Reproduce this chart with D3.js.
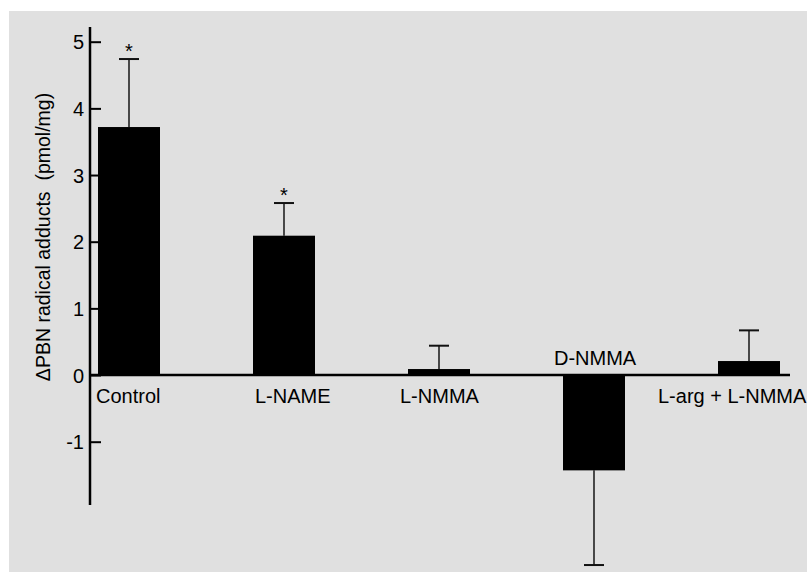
<!DOCTYPE html>
<html>
<head>
<meta charset="utf-8">
<script src="https://cdn.jsdelivr.net/npm/d3@7"></script>
<style>
  html, body { margin: 0; padding: 0; background: #ffffff; }
  svg { display: block; }
  text { font-family: "Liberation Sans", Arial, Helvetica, sans-serif; fill: #000; }
</style>
</head>
<body>
<svg id="chart" width="807" height="573"></svg>
<script>
// ---- data ----
const categories = ["Control", "L-NAME", "L-NMMA", "D-NMMA", "L-arg + L-NMMA"];
const means      = [3.72, 2.09, 0.09, -1.43, 0.21];
const errorEnds  = [4.74, 2.58, 0.44, -2.85, 0.67];   // end of the one-sided SEM bar
const significant = [true, true, false, false, false];
const yTicks     = [-1, 0, 1, 2, 3, 4, 5];
const yLabel     = "\u0394PBN radical adducts\u00a0\u00a0(pmol/mg)";

// ---- layout ----
const svg = d3.select("#chart");
svg.append("rect").attr("x", 9).attr("y", 11).attr("width", 798).attr("height", 561)
   .attr("fill", "#e0e0e0");

const x = d3.scaleBand().domain(categories).range([51.5, 826.5])
  .paddingInner(0.6).paddingOuter(0.3);
const y = d3.scaleLinear().domain([-1, 5]).range([441.7, 41.7]);
const axisX = 90;

// y axis line (extends past the tick range)
svg.append("line").attr("x1", axisX).attr("x2", axisX)
   .attr("y1", y(5.22)).attr("y2", y(-1.95))
   .attr("stroke", "#000").attr("stroke-width", 2.5);

const axis = d3.axisLeft(y).tickValues(yTicks).tickFormat(d => String(d))
  .tickSizeInner(-11).tickSizeOuter(0).tickPadding(6);
const gAxis = svg.append("g").attr("transform", `translate(${axisX},0)`).call(axis);
gAxis.select(".domain").remove();
gAxis.selectAll(".tick line").attr("stroke", "#000").attr("stroke-width", 2);
gAxis.selectAll(".tick text").attr("font-size", 20)
  .attr("font-family", "Liberation Sans, Arial, sans-serif").attr("fill", "#000")
  .attr("dy", "0.36em");

// y axis title
svg.append("text")
  .attr("transform", `translate(50,237) rotate(-90)`)
  .attr("text-anchor", "middle").attr("font-size", 19.5)
  .text(yLabel);

// error bars (one-sided)
const errG = svg.append("g");
categories.forEach((c, i) => {
  const cx = x(c) + x.bandwidth() / 2;
  errG.append("line").attr("x1", cx).attr("x2", cx)
    .attr("y1", y(means[i])).attr("y2", y(errorEnds[i]))
    .attr("stroke", "#222").attr("stroke-width", 1.6);
  errG.append("line").attr("x1", cx - 10).attr("x2", cx + 10)
    .attr("y1", y(errorEnds[i])).attr("y2", y(errorEnds[i]))
    .attr("stroke", "#111").attr("stroke-width", 2);
  if (significant[i]) {
    svg.append("text").attr("x", cx).attr("y", y(errorEnds[i]) - 1)
      .attr("text-anchor", "middle").attr("font-size", 20).text("*");
  }
});

// bars
svg.append("g").selectAll("rect").data(categories).join("rect")
  .attr("x", d => x(d))
  .attr("width", x.bandwidth())
  .attr("y", (d, i) => y(Math.max(0, means[i])))
  .attr("height", (d, i) => Math.abs(y(means[i]) - y(0)))
  .attr("fill", "#000");

// zero line
svg.append("line").attr("x1", axisX).attr("x2", 790)
   .attr("y1", y(0)).attr("y2", y(0))
   .attr("stroke", "#000").attr("stroke-width", 2.5);

// category labels (individually placed as in the original figure)
const labelDx = [-2, 2, -8, -9, -60];
const labelAbove = [false, false, false, true, false];
categories.forEach((c, i) => {
  svg.append("text")
    .attr("x", x(c) + labelDx[i])
    .attr("y", labelAbove[i] ? y(0) - 10 : y(0) + 28)
    .attr("font-size", 20)
    .text(c);
});
</script>
</body>
</html>
